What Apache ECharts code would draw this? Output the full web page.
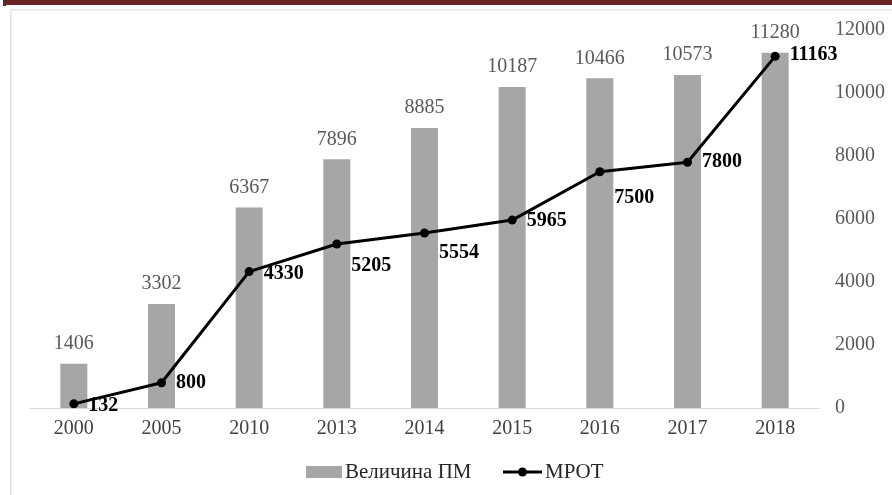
<!DOCTYPE html>
<html>
<head>
<meta charset="utf-8">
<script src="https://cdn.jsdelivr.net/npm/echarts@6/dist/echarts.min.js"></script>
<style>
  html, body { margin: 0; padding: 0; background: #fff; }
  #chart { width: 892px; height: 495px; }
</style>
</head>
<body>
<div id="chart"></div>
<script>
var years = ['2000', '2005', '2010', '2013', '2014', '2015', '2016', '2017', '2018'];
var pmValues = [1406, 3302, 6367, 7896, 8885, 10187, 10466, 10573, 11280];
var mrotValues = [132, 800, 4330, 5205, 5554, 5965, 7500, 7800, 11163];
var seriesNames = ['Величина ПМ', 'МРОТ'];
// vertical nudge of each MPOT label, in px (as placed in the original)
var mrotLabelDy = [2, 0, 2, 22, 20, 1, 26, 0, -2];

var serif = 'Liberation Serif';

var chartDom = document.getElementById('chart');
var myChart = echarts.init(chartDom);

var mrotData = mrotValues.map(function (v, i) {
  return { value: v, label: { offset: [0, mrotLabelDy[i]] } };
});

// legend drawn by hand: the built-in legend ignored the serif font
var legendY = 472;
var legendFont = { fontFamily: serif, fontSize: 21, fill: '#262626' };

myChart.setOption({
  animation: false,
  graphic: [
    // frame of the original picture
    { type: 'rect', shape: { x: 3, y: 0, width: 889, height: 5 }, style: { fill: '#6b2226' } },
    { type: 'rect', shape: { x: 3, y: 0, width: 3, height: 6 }, style: { fill: '#6b2226' } },
    { type: 'rect', shape: { x: 10, y: 9, width: 882, height: 1.5 }, style: { fill: '#e6e6e6' } },
    { type: 'rect', shape: { x: 10, y: 9, width: 1.5, height: 486 }, style: { fill: '#e6e6e6' } },
    // legend
    { type: 'rect', shape: { x: 306, y: legendY - 6, width: 36, height: 12 }, style: { fill: '#a6a6a6' } },
    { type: 'text', x: 345, y: legendY, style: Object.assign({ text: seriesNames[0], verticalAlign: 'middle' }, legendFont) },
    { type: 'line', shape: { x1: 503, y1: legendY, x2: 542, y2: legendY }, style: { stroke: '#000', lineWidth: 3 } },
    { type: 'circle', shape: { cx: 522.5, cy: legendY, r: 4.5 }, style: { fill: '#000' } },
    { type: 'text', x: 545, y: legendY, style: Object.assign({ text: seriesNames[1], verticalAlign: 'middle' }, legendFont) }
  ],
  grid: { left: 30, right: 73, top: 30, bottom: 87 },
  xAxis: {
    type: 'category',
    data: years,
    axisLine: { lineStyle: { color: '#d9d9d9', width: 1 } },
    axisTick: { length: 5, lineStyle: { color: '#d9d9d9' } },
    axisLabel: { fontFamily: serif, fontSize: 20, color: '#404040', margin: 11 }
  },
  yAxis: {
    type: 'value',
    position: 'right',
    min: 0,
    max: 12000,
    interval: 2000,
    splitLine: { show: false },
    axisLine: { show: false },
    axisTick: { show: false },
    axisLabel: {
      fontFamily: serif,
      fontSize: 20,
      color: '#595959',
      margin: 16,
      formatter: function (v) { return String(v); }
    }
  },
  series: [
    {
      name: seriesNames[0],
      type: 'bar',
      data: pmValues,
      barWidth: 27,
      itemStyle: { color: '#a6a6a6' },
      label: {
        show: true,
        position: 'top',
        distance: 10,
        fontFamily: serif,
        fontSize: 20,
        color: '#595959'
      }
    },
    {
      name: seriesNames[1],
      type: 'line',
      data: mrotData,
      symbol: 'circle',
      symbolSize: 9,
      itemStyle: { color: '#000' },
      lineStyle: { color: '#000', width: 3 },
      label: {
        show: true,
        position: 'right',
        distance: 10,
        fontFamily: serif,
        fontSize: 20,
        fontWeight: 'bold',
        color: '#000'
      }
    }
  ]
});
</script>
</body>
</html>
